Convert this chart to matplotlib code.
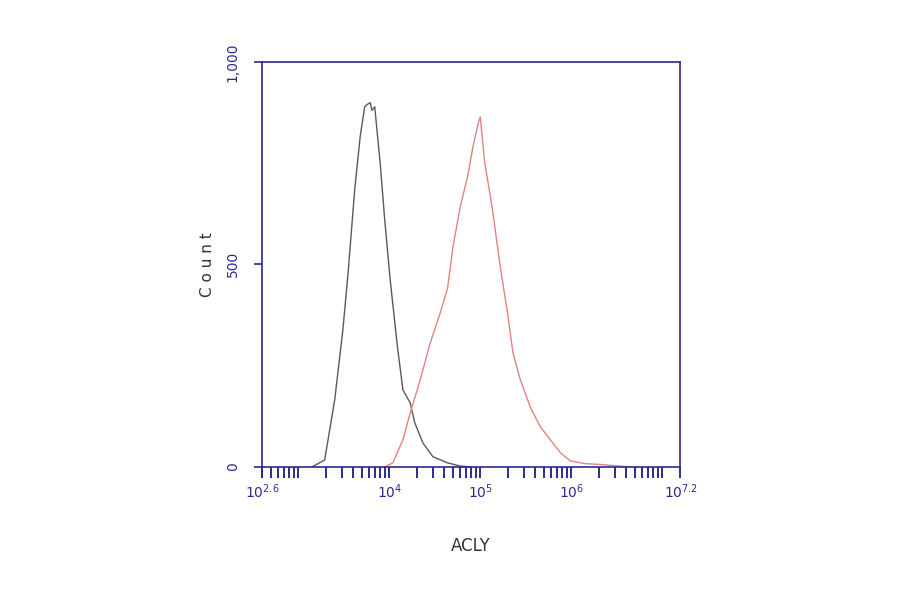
import numpy as np
import matplotlib.pyplot as plt
from matplotlib.ticker import LogLocator, NullFormatter, FixedLocator

# 数据 (log10 强度, 计数)
ctrl_log = [3.15, 3.29, 3.40, 3.49, 3.55, 3.62, 3.68, 3.73, 3.76, 3.79, 3.81, 3.84,
            3.90, 3.95, 4.01, 4.09, 4.15, 4.23, 4.28, 4.37, 4.48, 4.64, 4.78, 4.90]
ctrl_cnt = [0, 17, 165, 338, 486, 684, 815, 889, 895, 899, 880, 889,
            750, 610, 462, 296, 190, 158, 109, 59, 25, 10, 2, 0]

acly_log = [3.95, 4.04, 4.15, 4.23, 4.34, 4.45, 4.56, 4.64, 4.70, 4.78, 4.86, 4.92,
            4.98, 5.00, 5.05, 5.13, 5.22, 5.30, 5.36, 5.44, 5.55, 5.66, 5.77, 5.88,
            5.99, 6.15, 6.32, 6.48, 6.65]
acly_cnt = [0, 10, 67, 133, 215, 306, 380, 440, 543, 642, 716, 790,
            850, 864, 750, 642, 494, 380, 281, 215, 148, 99, 67, 35,
            15, 8, 6, 3, 0]

xtick_pos = [2.6, 4, 5, 6, 7.2]
xtick_lab = [r'$10^{2.6}$', r'$10^{4}$', r'$10^{5}$', r'$10^{6}$', r'$10^{7.2}$']
ytick_pos = [0, 500, 1000]
ytick_lab = ['0', '500', '1,000']

navy = '#2b2b8f'

fig = plt.figure(figsize=(9, 5.94), dpi=100)
ax = fig.add_axes([0.291, 0.214, 0.465, 0.682])

ax.plot(10 ** np.array(ctrl_log), ctrl_cnt, color='#5a5a5a', lw=1.0)
ax.plot(10 ** np.array(acly_log), acly_cnt, color='#e08484', lw=1.0)

ax.set_xscale('log')
ax.set_xlim(10 ** 2.6, 10 ** 7.2)
ax.set_ylim(0, 1000)

ax.xaxis.set_major_locator(FixedLocator([10 ** v for v in xtick_pos]))
ax.set_xticklabels(xtick_lab)
ax.xaxis.set_minor_locator(LogLocator(base=10, subs=np.arange(1, 10), numticks=50))
ax.xaxis.set_minor_formatter(NullFormatter())
ax.set_yticks(ytick_pos)
ax.set_yticklabels(ytick_lab, rotation=90, va='center')

for s in ax.spines.values():
    s.set_color(navy)
    s.set_linewidth(1.2)
ax.tick_params(axis='x', which='both', direction='out', length=8, width=1.4,
               colors=navy, labelsize=10, pad=3)
ax.tick_params(axis='y', direction='out', length=6, width=1.2,
               colors=navy, labelsize=10, pad=10)

ax.set_xlabel('ACLY', fontsize=12, color='#333333', labelpad=26)
ax.set_ylabel('C o u n t', fontsize=11, color='#333333', labelpad=8)

plt.savefig('out.png')
